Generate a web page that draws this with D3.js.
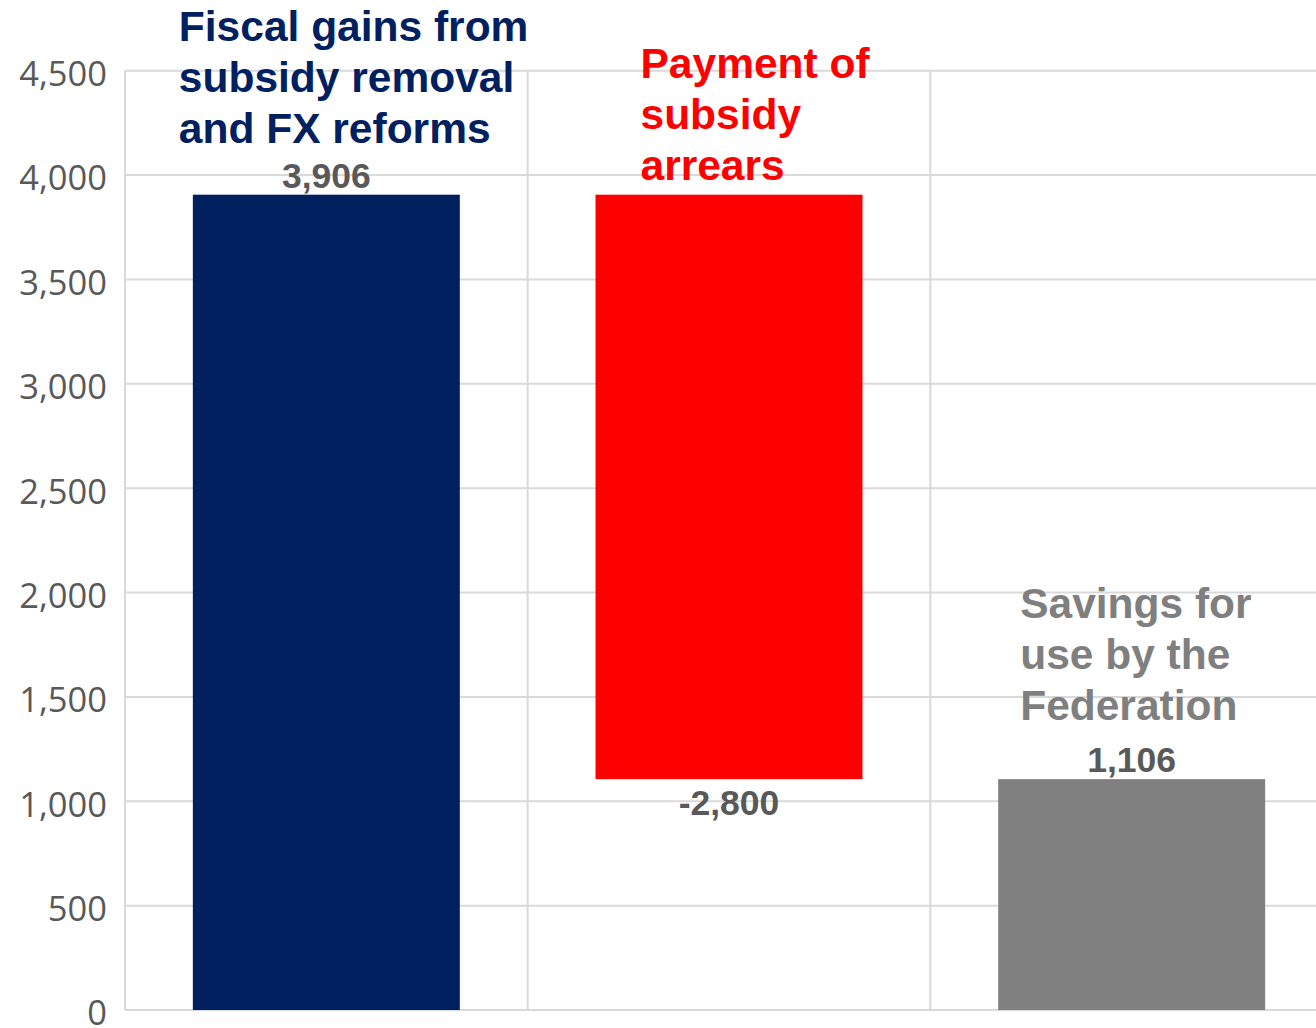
<!DOCTYPE html>
<html>
<head>
<meta charset="utf-8">
<script src="https://cdn.jsdelivr.net/npm/d3@7"></script>
<style>
  html, body { margin: 0; padding: 0; background: #fff; overflow: hidden; }
  svg { display: block; }
</style>
</head>
<body>
<svg id="chart" width="1316" height="1028"></svg>
<script>
// Waterfall: fiscal gains, arrears payment, remaining savings
const categories = ["gains", "arrears", "savings"];
const values = [3906, -2800, 1106];
const isTotal = [false, false, true];
const valueLabels = ["3,906", "-2,800", "1,106"];
const categoryLabels = [
  ["Fiscal gains from", "subsidy removal", "and FX reforms"],
  ["Payment of", "subsidy", "arrears"],
  ["Savings for", "use by the", "Federation"]
];
const yTicks = [0, 500, 1000, 1500, 2000, 2500, 3000, 3500, 4000, 4500];

const colors = ["#002060", "#ff0000", "#808080"];
const labelColors = ["#002060", "#ff0000", "#7f7f7f"];

const svg = d3.select("#chart");
const plotLeft = 125, plotRight = 1333, plotTop = 70.7, plotBottom = 1010;

const x = d3.scaleBand()
  .domain(categories)
  .range([plotLeft, plotRight])
  .paddingInner(0.337)
  .paddingOuter(0.337 / 2);

const y = d3.scaleLinear().domain([0, 4500]).range([plotBottom, plotTop]);

// running totals for floating bars
let run = 0;
const bars = categories.map((c, i) => {
  let y0, y1;
  if (isTotal[i]) { y0 = 0; y1 = values[i]; run = values[i]; }
  else { y0 = run; y1 = run + values[i]; run = y1; }
  return { c, i, lo: Math.min(y0, y1), hi: Math.max(y0, y1), v: values[i] };
});

const grid = "#d9d9d9";

// horizontal gridlines
svg.append("g").selectAll("line").data(yTicks.filter(t => t > 0)).join("line")
  .attr("x1", plotLeft).attr("x2", plotRight)
  .attr("y1", d => y(d)).attr("y2", d => y(d))
  .attr("stroke", grid).attr("stroke-width", 2);

// vertical category separators
const step = x.step();
const bounds = categories.map(c => x(c) - (step - x.bandwidth()) / 2);
svg.append("g").selectAll("line").data(bounds).join("line")
  .attr("x1", d => d).attr("x2", d => d)
  .attr("y1", plotTop).attr("y2", plotBottom)
  .attr("stroke", grid).attr("stroke-width", 2);

// baseline
svg.append("line")
  .attr("x1", plotLeft).attr("x2", plotRight)
  .attr("y1", y(0)).attr("y2", y(0))
  .attr("stroke", grid).attr("stroke-width", 2);

// y axis labels
const yAxis = d3.axisLeft(y).tickValues(yTicks).tickSize(0).tickPadding(18)
  .tickFormat(d3.format(","));
const ga = svg.append("g").attr("transform", `translate(${plotLeft},0)`).call(yAxis);
ga.select(".domain").remove();
ga.selectAll("text")
  .attr("font-family", "'Open Sans', sans-serif")
  .attr("font-size", 34.5)
  .attr("fill", "#595959")
  .attr("dy", "0.43em");

// bars
svg.append("g").selectAll("rect").data(bars).join("rect")
  .attr("x", d => x(d.c))
  .attr("width", x.bandwidth())
  .attr("y", d => y(d.hi))
  .attr("height", d => y(d.lo) - y(d.hi))
  .attr("fill", d => colors[d.i]);

// value labels
svg.append("g").selectAll("text").data(bars).join("text")
  .attr("x", d => x(d.c) + x.bandwidth() / 2)
  .attr("y", d => d.v < 0 ? y(d.lo) + 36 : y(d.hi) - 7)
  .attr("text-anchor", "middle")
  .attr("font-family", "'Liberation Sans', Arial, sans-serif")
  .attr("font-weight", "bold")
  .attr("font-size", 35.5)
  .attr("fill", "#595959")
  .text(d => valueLabels[d.i]);

// category annotations: offset from bar's left edge, last baseline above bar top
const labelPlace = [
  { dx: -14, dy: -52 },
  { dx: 45, dy: -15 },
  { dx: 22, dy: -59 }
];
const lineH = 51;
bars.forEach(d => {
  const p = labelPlace[d.i];
  const lines = categoryLabels[d.i];
  const lastY = y(d.hi) + p.dy;
  const t = svg.append("text")
    .attr("font-family", "'Liberation Sans', Arial, sans-serif")
    .attr("font-weight", "bold")
    .attr("font-size", 42.5)
    .attr("fill", labelColors[d.i]);
  lines.forEach((ln, k) => {
    t.append("tspan")
      .attr("x", x(d.c) + p.dx)
      .attr("y", lastY - (lines.length - 1 - k) * lineH)
      .text(ln);
  });
});
</script>
</body>
</html>
